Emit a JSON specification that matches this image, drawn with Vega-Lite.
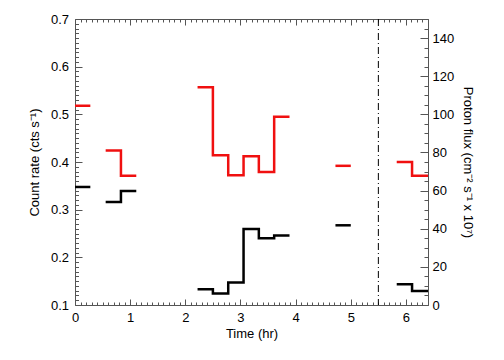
{
  "$schema": "https://vega.github.io/schema/vega-lite/v6.json",
  "width": 353,
  "height": 286,
  "autosize": "none",
  "padding": {"left": 75, "top": 19, "right": 76, "bottom": 55},
  "background": "white",
  "config": {
    "view": {"stroke": null},
    "font": "Liberation Sans",
    "axis": {
      "grid": false,
      "labelFont": "Liberation Sans",
      "titleFont": "Liberation Sans",
      "labelFontSize": 13,
      "titleFontSize": 13,
      "titleFontWeight": "normal",
      "labelColor": "#000000",
      "titleColor": "#000000",
      "domainColor": "#555555",
      "tickColor": "#555555",
      "labelOverlap": false,
      "labelFlush": false,
      "labelBound": false
    }
  },
  "data": {
    "values": [
      {"s": "count", "g": 1, "t": 0, "v": 0.518},
      {"s": "count", "g": 1, "t": 0.278, "v": 0.518},
      {"s": "count", "g": 2, "t": 0.556, "v": 0.424},
      {"s": "count", "g": 2, "t": 0.833, "v": 0.371},
      {"s": "count", "g": 2, "t": 1.111, "v": 0.371},
      {"s": "count", "g": 3, "t": 2.222, "v": 0.557},
      {"s": "count", "g": 3, "t": 2.5, "v": 0.414},
      {"s": "count", "g": 3, "t": 2.778, "v": 0.372},
      {"s": "count", "g": 3, "t": 3.056, "v": 0.412},
      {"s": "count", "g": 3, "t": 3.333, "v": 0.379},
      {"s": "count", "g": 3, "t": 3.611, "v": 0.495},
      {"s": "count", "g": 3, "t": 3.889, "v": 0.495},
      {"s": "count", "g": 4, "t": 4.722, "v": 0.392},
      {"s": "count", "g": 4, "t": 5.0, "v": 0.392},
      {"s": "count", "g": 5, "t": 5.833, "v": 0.4},
      {"s": "count", "g": 5, "t": 6.111, "v": 0.371},
      {"s": "count", "g": 5, "t": 6.4, "v": 0.371},
      {"s": "flux", "g": 1, "t": 0, "v": 61.9},
      {"s": "flux", "g": 1, "t": 0.278, "v": 61.9},
      {"s": "flux", "g": 2, "t": 0.556, "v": 54.0},
      {"s": "flux", "g": 2, "t": 0.833, "v": 59.8},
      {"s": "flux", "g": 2, "t": 1.111, "v": 59.8},
      {"s": "flux", "g": 3, "t": 2.222, "v": 8.3},
      {"s": "flux", "g": 3, "t": 2.5, "v": 6.0},
      {"s": "flux", "g": 3, "t": 2.778, "v": 11.8},
      {"s": "flux", "g": 3, "t": 3.056, "v": 39.9},
      {"s": "flux", "g": 3, "t": 3.333, "v": 35.0},
      {"s": "flux", "g": 3, "t": 3.611, "v": 36.5},
      {"s": "flux", "g": 3, "t": 3.889, "v": 36.5},
      {"s": "flux", "g": 4, "t": 4.722, "v": 41.8},
      {"s": "flux", "g": 4, "t": 5.0, "v": 41.8},
      {"s": "flux", "g": 5, "t": 5.833, "v": 10.9},
      {"s": "flux", "g": 5, "t": 6.111, "v": 7.4},
      {"s": "flux", "g": 5, "t": 6.4, "v": 7.4}
    ]
  },
  "layer": [
    {
      "transform": [{"filter": "datum.s == 'count'"}],
      "mark": {"type": "line", "interpolate": "step-after", "color": "#f01010", "strokeWidth": 2.5, "strokeCap": "butt", "strokeJoin": "miter", "clip": true},
      "encoding": {
        "x": {
          "field": "t", "type": "quantitative",
          "scale": {"domain": [0, 6.4], "nice": false, "zero": false},
          "axis": {
            "orient": "bottom",
            "title": "Time (hr)",
            "values": [0,0.1,0.2,0.3,0.4,0.5,0.6,0.7,0.8,0.9,1,1.1,1.2,1.3,1.4,1.5,1.6,1.7,1.8,1.9,2,2.1,2.2,2.3,2.4,2.5,2.6,2.7,2.8,2.9,3,3.1,3.2,3.3,3.4,3.5,3.6,3.7,3.8,3.9,4,4.1,4.2,4.3,4.4,4.5,4.6,4.7,4.8,4.9,5,5.1,5.2,5.3,5.4,5.5,5.6,5.7,5.8,5.9,6,6.1,6.2,6.3,6.4],
            "labelExpr": "abs(datum.value - round(datum.value)) < 1e-6 ? format(datum.value, 'd') : ''",
            "tickSize": {"condition": {"test": "abs(datum.value - round(datum.value)) < 1e-6", "value": -6}, "value": -3},
            "labelPadding": 12,
            "titlePadding": 0
          }
        },
        "y": {
          "field": "v", "type": "quantitative",
          "scale": {"domain": [0.1, 0.7], "nice": false, "zero": false},
          "axis": {
            "orient": "left",
            "title": "Count rate (cts s⁻¹)",
            "values": [0.1,0.11,0.12,0.13,0.14,0.15,0.16,0.17,0.18,0.19,0.2,0.21,0.22,0.23,0.24,0.25,0.26,0.27,0.28,0.29,0.3,0.31,0.32,0.33,0.34,0.35,0.36,0.37,0.38,0.39,0.4,0.41,0.42,0.43,0.44,0.45,0.46,0.47,0.48,0.49,0.5,0.51,0.52,0.53,0.54,0.55,0.56,0.57,0.58,0.59,0.6,0.61,0.62,0.63,0.64,0.65,0.66,0.67,0.68,0.69,0.7],
            "labelExpr": "abs(datum.value * 10 - round(datum.value * 10)) < 1e-6 ? format(datum.value, '.1f') : ''",
            "tickSize": {"condition": {"test": "abs(datum.value * 10 - round(datum.value * 10)) < 1e-6", "value": -7}, "value": -3.5},
            "labelPadding": 13.5,
            "titlePadding": 9
          }
        },
        "detail": {"field": "g", "type": "nominal"}
      }
    },
    {
      "transform": [{"filter": "datum.s == 'flux'"}],
      "mark": {"type": "line", "interpolate": "step-after", "color": "#000000", "strokeWidth": 2.5, "strokeCap": "butt", "strokeJoin": "miter", "clip": true},
      "encoding": {
        "x": {
          "field": "t", "type": "quantitative",
          "scale": {"domain": [0, 6.4], "nice": false, "zero": false},
          "axis": {
            "orient": "top",
            "title": null,
            "labels": false,
            "values": [0,0.1,0.2,0.3,0.4,0.5,0.6,0.7,0.8,0.9,1,1.1,1.2,1.3,1.4,1.5,1.6,1.7,1.8,1.9,2,2.1,2.2,2.3,2.4,2.5,2.6,2.7,2.8,2.9,3,3.1,3.2,3.3,3.4,3.5,3.6,3.7,3.8,3.9,4,4.1,4.2,4.3,4.4,4.5,4.6,4.7,4.8,4.9,5,5.1,5.2,5.3,5.4,5.5,5.6,5.7,5.8,5.9,6,6.1,6.2,6.3,6.4],
            "tickSize": {"condition": {"test": "abs(datum.value - round(datum.value)) < 1e-6", "value": -6}, "value": -3}
          }
        },
        "y": {
          "field": "v", "type": "quantitative",
          "scale": {"domain": [0, 150], "nice": false, "zero": false},
          "axis": {
            "orient": "right",
            "title": "Proton flux (cm⁻² s⁻¹ x 10⁷)",
            "values": [0,5,10,15,20,25,30,35,40,45,50,55,60,65,70,75,80,85,90,95,100,105,110,115,120,125,130,135,140,145,150],
            "labelExpr": "datum.value % 20 === 0 ? format(datum.value, 'd') : ''",
            "tickSize": {"condition": {"test": "datum.value % 20 === 0", "value": -8}, "value": -4},
            "labelPadding": 12,
            "titlePadding": 7
          }
        },
        "detail": {"field": "g", "type": "nominal"}
      }
    },
    {
      "data": {"values": [{"t": 5.5}]},
      "mark": {"type": "rule", "color": "#000000", "strokeWidth": 1, "strokeDash": [7, 3, 1, 3]},
      "encoding": {
        "x": {"field": "t", "type": "quantitative", "axis": null}
      }
    }
  ],
  "resolve": {"scale": {"y": "independent"}, "axis": {"x": "independent", "y": "independent"}}
}
